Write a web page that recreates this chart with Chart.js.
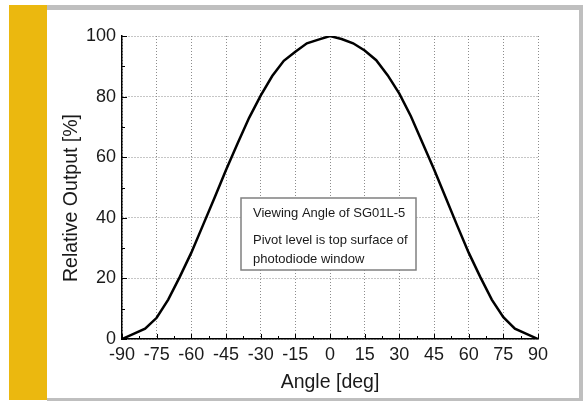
<!DOCTYPE html>
<html>
<head>
<meta charset="utf-8">
<script src="https://cdn.jsdelivr.net/npm/chart.js@4.4.1/dist/chart.umd.min.js"></script>
<style>
  html, body { margin: 0; padding: 0; background: #ffffff; }
  canvas { display: block; }
</style>
</head>
<body>
<canvas id="c" width="584" height="401"></canvas>
<script>
// ---- data ----
const angles = [-90, -85, -80, -75, -70, -65, -60, -55, -50, -45, -40, -35, -30, -25, -20, -15, -10, -5,
                0, 5, 10, 15, 20, 25, 30, 35, 40, 45, 50, 55, 60, 65, 70, 75, 80, 85, 90];
const relativeOutput = [0, 1.7, 3.4, 7, 13, 20.5, 28.5, 37.5, 46.5, 55.8, 64.5, 73, 80.3, 86.8, 91.8, 94.8, 97.6, 98.8,
                        100, 99, 97.6, 95.2, 92, 87, 81, 73.5, 64.8, 56, 46.8, 37.5, 28.5, 20.5, 13, 7.2, 3.4, 1.7, 0];
const xTicks = [-90, -75, -60, -45, -30, -15, 0, 15, 30, 45, 60, 75, 90];
const yTicks = [0, 20, 40, 60, 80, 100];
const xTitle = 'Angle [deg]';
const yTitle = 'Relative Output [%]';
const noteLines = ['Viewing Angle of SG01L-5', '', 'Pivot level is top surface of', 'photodiode window'];

const FONT = '"Liberation Sans", Arial, Helvetica, sans-serif';

const points = angles.map((a, i) => ({ x: a, y: relativeOutput[i] }));

const framePlugin = {
  id: 'frame',
  beforeDraw(chart) {
    const ctx = chart.ctx;
    ctx.save();
    ctx.fillStyle = '#ffffff';
    ctx.fillRect(0, 0, chart.width, chart.height);
    ctx.fillStyle = '#bfbfbf';
    ctx.fillRect(47, 5, 536, 5);
    ctx.fillRect(579, 5, 4, 395);
    ctx.fillRect(47, 398, 536, 3);
    ctx.fillStyle = '#ebb80f';
    ctx.fillRect(9, 5, 38, 395);
    ctx.restore();
  }
};

const decorPlugin = {
  id: 'decor',
  afterDatasetsDraw(chart) {
    const ctx = chart.ctx;
    const xs = chart.scales.x, ys = chart.scales.y;
    const a = chart.chartArea;
    ctx.save();
    // inward ticks
    ctx.strokeStyle = '#000';
    ctx.lineWidth = 1;
    ctx.beginPath();
    for (let i = 0; i < xTicks.length; i++) {
      const px = Math.round(xs.getPixelForValue(xTicks[i])) + 0.5;
      ctx.moveTo(px, a.bottom); ctx.lineTo(px, a.bottom - 5);
      if (i < xTicks.length - 1) {
        const m = Math.round(xs.getPixelForValue((xTicks[i] + xTicks[i + 1]) / 2)) + 0.5;
        ctx.moveTo(m, a.bottom); ctx.lineTo(m, a.bottom - 3);
      }
    }
    for (let i = 0; i < yTicks.length; i++) {
      const py = Math.round(ys.getPixelForValue(yTicks[i])) + 0.5;
      ctx.moveTo(a.left, py); ctx.lineTo(a.left + 5, py);
      if (i < yTicks.length - 1) {
        const m = Math.round(ys.getPixelForValue((yTicks[i] + yTicks[i + 1]) / 2)) + 0.5;
        ctx.moveTo(a.left, m); ctx.lineTo(a.left + 3, m);
      }
    }
    ctx.stroke();

    // note box
    const bx = 241, by = 198, bw = 175, bh = 72;
    ctx.fillStyle = '#ffffff';
    ctx.fillRect(bx, by, bw, bh);
    ctx.strokeStyle = '#808080';
    ctx.lineWidth = 1.5;
    ctx.strokeRect(bx, by, bw, bh);
    ctx.fillStyle = '#1a1a1a';
    ctx.font = '13px ' + FONT;
    ctx.textBaseline = 'middle';
    ctx.textAlign = 'left';
    const lineYs = [213, 226, 240, 259];
    noteLines.forEach((t, i) => { if (t) ctx.fillText(t, 253, lineYs[i]); });

    // axis titles
    ctx.font = '19.5px ' + FONT;
    ctx.fillStyle = '#1a1a1a';
    ctx.textAlign = 'center';
    ctx.textBaseline = 'middle';
    ctx.fillText(xTitle, 330, 383);
    ctx.translate(72, 198);
    ctx.rotate(-Math.PI / 2);
    ctx.fillText(yTitle, 0, 0);
    ctx.restore();
  }
};

new Chart(document.getElementById('c'), {
  type: 'line',
  data: {
    datasets: [{
      data: points,
      borderColor: '#000000',
      borderWidth: 2.5,
      pointRadius: 0,
      tension: 0,
      fill: false
    }]
  },
  options: {
    responsive: false,
    animation: false,
    devicePixelRatio: 1,
    layout: { padding: { left: 0, top: 36, right: 46, bottom: 0 } },
    plugins: { legend: { display: false }, tooltip: { enabled: false }, title: { display: false } },
    scales: {
      x: {
        type: 'linear', min: -90, max: 90,
        afterBuildTicks(s) { s.ticks = xTicks.map(v => ({ value: v })); },
        afterFit(s) { s.height = 62; },
        ticks: { font: { size: 18, family: FONT }, color: '#1a1a1a', padding: 5, maxRotation: 0, autoSkip: false },
        grid: { color: '#8c8c8c', lineWidth: 1, drawTicks: false },
        border: { display: true, color: '#000', width: 1.5, dash: [1, 2] }
      },
      y: {
        type: 'linear', min: 0, max: 100,
        afterBuildTicks(s) { s.ticks = yTicks.map(v => ({ value: v })); },
        afterFit(s) { s.width = 122; },
        ticks: { font: { size: 18, family: FONT }, color: '#1a1a1a', padding: 6 },
        grid: { color: '#8c8c8c', lineWidth: 1, drawTicks: false },
        border: { display: true, color: '#000', width: 1.5, dash: [1, 2] }
      }
    }
  },
  plugins: [framePlugin, decorPlugin]
});
</script>
</body>
</html>
